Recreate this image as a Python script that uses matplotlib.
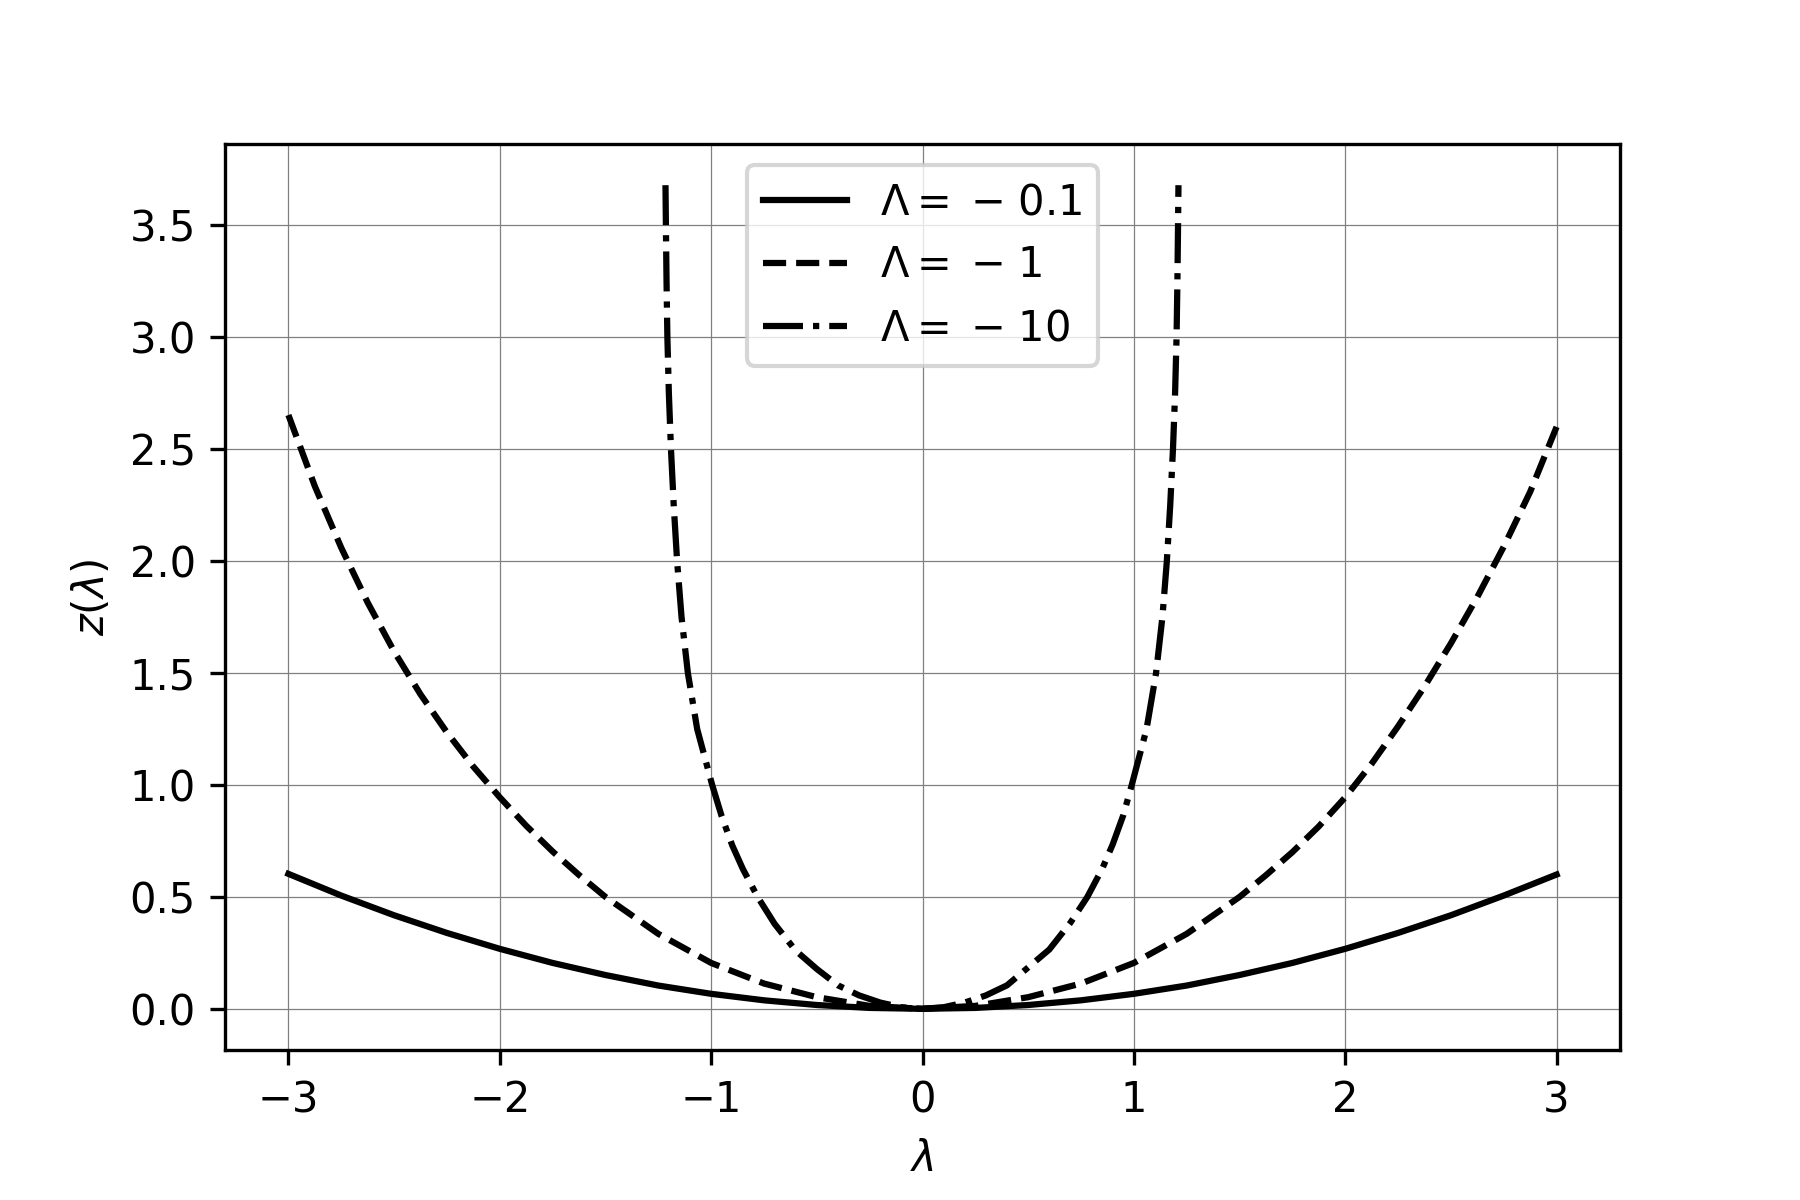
import matplotlib
matplotlib.use("Agg")
import matplotlib.pyplot as plt

# Lambda = -0.1 (solid)
lam_a = [-3.0, -2.75, -2.5, -2.25, -2.0, -1.75, -1.5, -1.25, -1.0, -0.75, -0.5, -0.25, 0.0,
         0.25, 0.5, 0.75, 1.0, 1.25, 1.5, 1.75, 2.0, 2.25, 2.5, 2.75, 3.0]
z_a = [0.603, 0.506, 0.418, 0.339, 0.268, 0.205, 0.151, 0.104, 0.067, 0.038, 0.017, 0.004, 0.0,
       0.004, 0.017, 0.038, 0.067, 0.104, 0.151, 0.205, 0.268, 0.339, 0.418, 0.506, 0.600]

# Lambda = -1 (dashed)
lam_b = [-3.0, -2.875, -2.75, -2.625, -2.5, -2.375, -2.25, -2.125, -2.0, -1.875, -1.75, -1.625,
         -1.5, -1.25, -1.0, -0.75, -0.5, -0.25, 0.0,
         0.25, 0.5, 0.75, 1.0, 1.25, 1.5,
         1.625, 1.75, 1.875, 2.0, 2.125, 2.25, 2.375, 2.5, 2.625, 2.75, 2.875, 3.0]
z_b = [2.653, 2.335, 2.06, 1.815, 1.597, 1.405, 1.235, 1.082, 0.945, 0.818, 0.703, 0.598,
       0.50, 0.335, 0.205, 0.113, 0.052, 0.013, 0.0,
       0.013, 0.052, 0.113, 0.205, 0.335, 0.50,
       0.597, 0.70, 0.815, 0.945, 1.095, 1.262, 1.44, 1.633, 1.84, 2.065, 2.31, 2.60]

# Lambda = -10 (dash-dot)
lam_c = [-1.216, -1.214, -1.211, -1.207, -1.2, -1.19, -1.177, -1.161, -1.14, -1.11, -1.066, -0.995,
         -0.95, -0.9, -0.85, -0.78, -0.7, -0.6, -0.5, -0.4, -0.3, -0.2, -0.1, 0.0,
         0.1, 0.2, 0.3, 0.4, 0.5, 0.6, 0.7, 0.78, 0.85, 0.9, 0.95, 0.99,
         1.06, 1.105, 1.135, 1.156, 1.172, 1.185, 1.195, 1.202, 1.206, 1.209, 1.211]
z_c = [3.68, 3.5, 3.25, 3.0, 2.75, 2.5, 2.25, 2.0, 1.75, 1.5, 1.25, 1.0,
       0.86, 0.73, 0.625, 0.5, 0.38, 0.26, 0.178, 0.105, 0.06, 0.028, 0.007, 0.0,
       0.007, 0.028, 0.06, 0.105, 0.185, 0.265, 0.385, 0.5, 0.625, 0.735, 0.865, 1.0,
       1.25, 1.5, 1.75, 2.0, 2.25, 2.5, 2.75, 3.0, 3.25, 3.5, 3.68]

labels = [r'$\Lambda =\hspace{0.07}-\hspace{0.1}0.1$',
          r'$\Lambda =\hspace{0.07}-\hspace{0.1}1$',
          r'$\Lambda =\hspace{0.07}-\hspace{0.1}10$']

fig, ax = plt.subplots(figsize=(6, 4), dpi=300)
fig.subplots_adjust(left=0.125, right=0.9, bottom=0.125, top=0.88)

ax.plot(lam_a, z_a, color='black', linestyle='-', label=labels[0])
ax.plot(lam_b, z_b, color='black', linestyle='--', label=labels[1])
ax.plot(lam_c, z_c, color='black', linestyle='-.', label=labels[2])

ax.grid(True, color='gray', linewidth=0.3)
ax.set_xlabel(r'$\lambda$')
ax.set_ylabel(r'$z(\lambda)$')
ax.legend(loc='upper center')

fig.savefig('out.png', dpi=300)
